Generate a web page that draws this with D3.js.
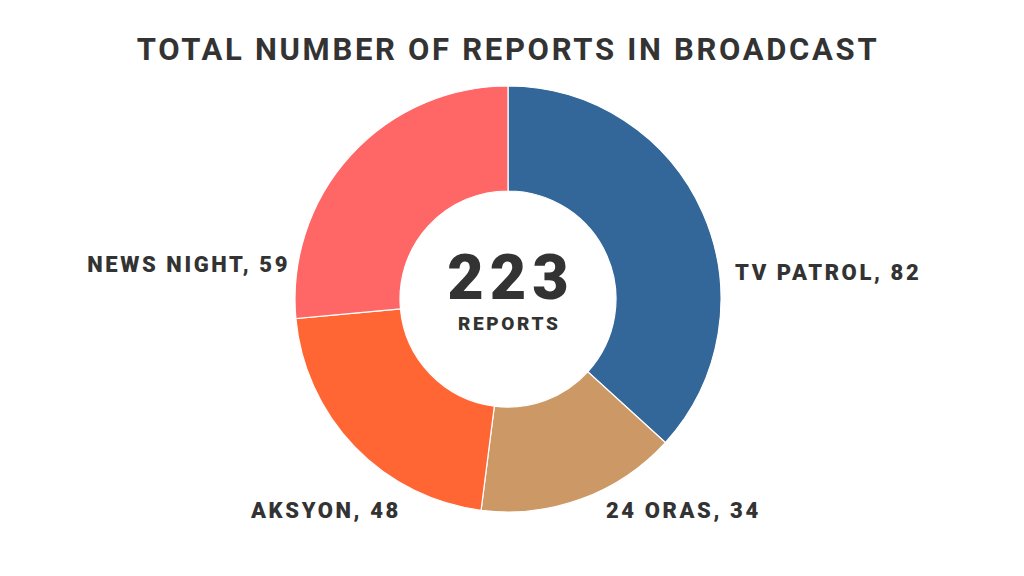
<!DOCTYPE html>
<html><head><meta charset="utf-8">
<script src="https://cdn.jsdelivr.net/npm/d3@7"></script>
<style>html,body{margin:0;padding:0;background:#fff;}svg{display:block;}</style>
</head><body>
<svg id="c" width="1024" height="576"></svg>
<script>
const categories = ["TV PATROL", "24 ORAS", "AKSYON", "NEWS NIGHT"];
const values = [82, 34, 48, 59];
const colors = ["#336699", "#cc9966", "#ff6633", "#ff6666"];
const titleText = "TOTAL NUMBER OF REPORTS IN BROADCAST";
const centerLabel = "REPORTS";

// label layout (offsets from donut centre, text-anchor)
const labelLayout = [
  {dx: 227, dy: -19, anchor: "start"},
  {dx: 98, dy: 219, anchor: "start"},
  {dx: -257, dy: 219, anchor: "start"},
  {dx: -218, dy: -27, anchor: "end"}
];

const svg = d3.select("#c");
const W = 1024, H = 576;
const cx = 508, cy = 299, rOuter = 213, rInner = 108;

svg.append("text")
  .attr("x", W/2 - 4).attr("y", 60)
  .attr("text-anchor", "middle")
  .attr("font-family", "Roboto")
  .attr("font-weight", 700)
  .attr("font-size", 31)
  .attr("letter-spacing", 2.7)
  .attr("fill", "#333333")
  .text(titleText);

const data = categories.map((c, i) => ({name: c, value: values[i], color: colors[i], layout: labelLayout[i]}));
const pie = d3.pie().value(d => d.value).sort(null);
const arc = d3.arc().innerRadius(rInner).outerRadius(rOuter);
const g = svg.append("g").attr("transform", `translate(${cx},${cy})`);

g.selectAll("path").data(pie(data)).join("path")
  .attr("d", arc)
  .attr("fill", d => d.data.color)
  .attr("stroke", "#ffffff")
  .attr("stroke-width", 1.2);

g.selectAll("text.lbl").data(pie(data)).join("text")
  .attr("class", "lbl")
  .attr("x", d => d.data.layout.dx)
  .attr("y", d => d.data.layout.dy)
  .attr("text-anchor", d => d.data.layout.anchor)
  .attr("font-family", "Roboto")
  .attr("font-weight", 900)
  .attr("font-size", 22)
  .attr("letter-spacing", 2.6)
  .attr("fill", "#333333")
  .text(d => `${d.data.name}, ${d.data.value}`);

const total = d3.sum(values);
g.append("text")
  .attr("x", 3).attr("y", 0)
  .attr("text-anchor", "middle")
  .attr("font-family", "Roboto")
  .attr("font-weight", 900)
  .attr("font-size", 63)
  .attr("letter-spacing", 6)
  .attr("fill", "#333333")
  .text(total);
g.append("text")
  .attr("x", 1.3).attr("y", 31)
  .attr("text-anchor", "middle")
  .attr("font-family", "Roboto")
  .attr("font-weight", 900)
  .attr("font-size", 19)
  .attr("letter-spacing", 2.6)
  .attr("fill", "#333333")
  .text(centerLabel);
</script>
</body></html>
